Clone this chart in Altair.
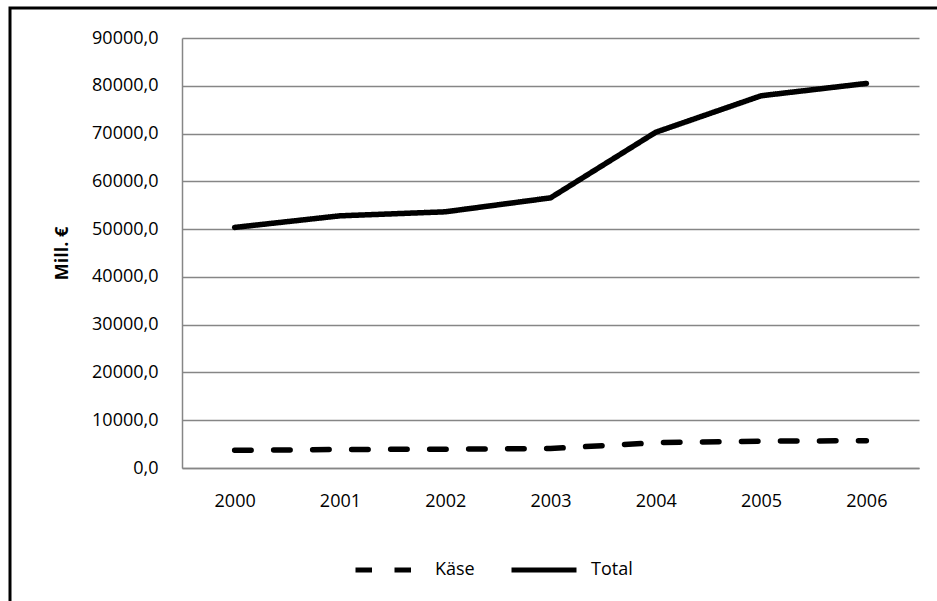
import altair as alt
import pandas as pd

# Annual values, million euro
years = ["2000", "2001", "2002", "2003", "2004", "2005", "2006"]
kaese = [3700, 3870, 3940, 4080, 5300, 5630, 5700]
total = [50350, 52780, 53620, 56540, 70280, 77910, 80490]
series = ["Käse", "Total"]
y_ticks = [0, 10000, 20000, 30000, 40000, 50000, 60000, 70000, 80000, 90000]

df = pd.DataFrame({
    "Jahr": years * 2,
    "Serie": [series[0]] * len(years) + [series[1]] * len(years),
    "Wert": kaese + total,
})

FONT = "Open Sans"
GRID = "#868686"

lines = alt.Chart(df).mark_line(
    color="black", strokeWidth=5.5, strokeCap="round", strokeJoin="round"
).encode(
    x=alt.X(
        "Jahr:O",
        sort=years,
        scale=alt.Scale(type="point", padding=0.5),
        axis=alt.Axis(
            title=None, labelAngle=0, ticks=False, grid=False,
            domainColor=GRID, domainWidth=1.5, labelPadding=24,
        ),
    ),
    y=alt.Y(
        "Wert:Q",
        scale=alt.Scale(domain=[0, 90000], nice=False),
        axis=alt.Axis(
            values=y_ticks,
            labelExpr="replace(format(datum.value, '.1f'), '.', ',')",
            title="Mill. €", titleFontWeight="bold", titlePadding=20,
            ticks=False, grid=True, gridColor=GRID, gridWidth=1.5,
            domainColor=GRID, domainWidth=1.5, labelPadding=24,
        ),
    ),
    strokeDash=alt.StrokeDash(
        "Serie:N",
        scale=alt.Scale(domain=series, range=[[16.5, 22.5], [1, 0]]),
        legend=alt.Legend(
            title=None, orient="none", direction="horizontal",
            legendX=171, legendY=497, padding=0,
            symbolType="stroke", symbolSize=4225, symbolStrokeWidth=5,
            symbolStrokeColor="black", labelOffset=12, columnPadding=26,
        ),
    ),
)

# Outer frame around the chart
frame = alt.Chart(pd.DataFrame({"f": [0]})).mark_rect(
    fillOpacity=0, stroke="black", strokeWidth=3, clip=False
).encode(
    x=alt.value(-172), x2=alt.value(780),
    y=alt.value(-30), y2=alt.value(600),
)

chart = alt.layer(frame, lines).properties(
    width=737,
    height=430,
    autosize=alt.AutoSizeParams(type="none"),
    padding={"left": 182, "top": 38, "right": 18, "bottom": 133},
    background="white",
).configure_view(stroke=None).configure_axis(
    labelFont=FONT, titleFont=FONT, labelFontSize=18, titleFontSize=18,
    labelColor="black", titleColor="black",
).configure_legend(
    labelFont=FONT, labelFontSize=18, labelColor="black",
)

chart.save("out.html", embed_options={"renderer": "svg", "actions": False})
